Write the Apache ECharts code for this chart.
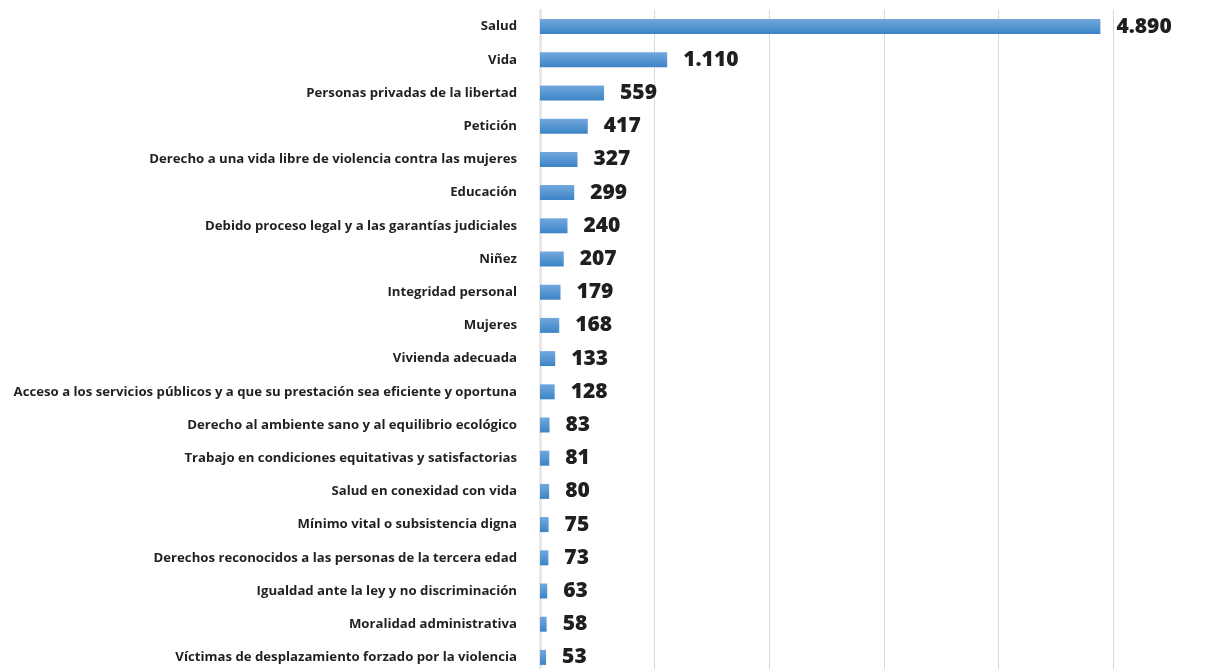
<!DOCTYPE html>
<html><head><meta charset="utf-8">
<script src="https://cdn.jsdelivr.net/npm/echarts@6/dist/echarts.min.js"></script>
<style>html,body{margin:0;padding:0;background:#fff;overflow:hidden}#c{width:1220px;height:680px}</style>
</head><body><div id="c"></div>
<script>
var categories = [
  "Salud","Vida","Personas privadas de la libertad","Petición",
  "Derecho a una vida libre de violencia contra las mujeres","Educación",
  "Debido proceso legal y a las garantías judiciales","Niñez","Integridad personal",
  "Mujeres","Vivienda adecuada",
  "Acceso a los servicios públicos y a que su prestación sea eficiente y oportuna",
  "Derecho al ambiente sano y al equilibrio ecológico",
  "Trabajo en condiciones equitativas y satisfactorias","Salud en conexidad con vida",
  "Mínimo vital o subsistencia digna","Derechos reconocidos a las personas de la tercera edad",
  "Igualdad ante la ley y no discriminación","Moralidad administrativa",
  "Víctimas de desplazamiento forzado por la violencia"
];
var values = [4890,1110,559,417,327,299,240,207,179,168,133,128,83,81,80,75,73,63,58,53];
var xTicks = {min:0, max:5000, interval:1000};

function fmt(v){ return String(v).replace(/\B(?=(\d{3})+(?!\d))/g,'.'); }

var chart = echarts.init(document.getElementById('c'));
chart.setOption({
  animation:false,
  grid:{left:540, right:107, top:10, height:664, containLabel:false},
  xAxis:{type:'value', min:xTicks.min, max:xTicks.max, interval:xTicks.interval,
    axisLabel:{show:false}, axisLine:{show:false}, axisTick:{show:false},
    splitLine:{lineStyle:{color:'#d9d9d9', width:1}}},
  yAxis:{type:'category', data:categories, inverse:true,
    axisLine:{show:true, lineStyle:{color:'#e8e8e8', width:3}},
    axisTick:{show:false},
    axisLabel:{margin:23, color:'#231f20', fontFamily:'Open Sans', fontWeight:700, fontSize:13.2}},
  series:[{type:'bar', data:values, barWidth:15,
    itemStyle:{color:new echarts.graphic.LinearGradient(0,0,0,1,[
      {offset:0,color:'#72a8dd'},{offset:1,color:'#3c84c6'}])},
    label:{show:true, position:'right', distance:16, color:'#1f1f1f',
      fontFamily:'Open Sans', fontWeight:800, fontSize:21,
      formatter:function(p){return fmt(p.value);}}
  }]
});
</script></body></html>
